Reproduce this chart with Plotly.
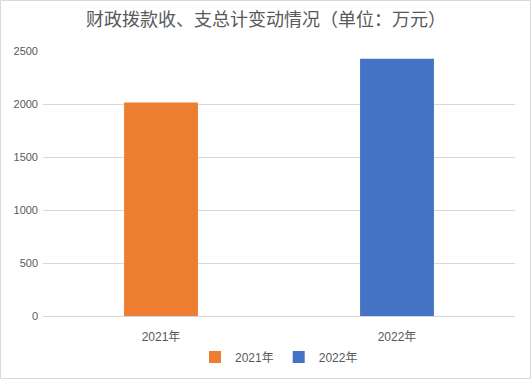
import plotly.graph_objects as go

categories = ["2021年", "2022年"]
values = [2015, 2427]
colors = ["#ED7D31", "#4472C4"]
y_ticks = [0, 500, 1000, 1500, 2000, 2500]

fig = go.Figure()
for cat, val, col in zip(categories, values, colors):
    fig.add_trace(go.Bar(x=[cat], y=[val], name=cat, marker_color=col,
                         marker_line_width=0, width=0.313))

font_fam = "Liberation Sans, Noto Sans CJK SC, sans-serif"
fig.update_layout(
    width=532, height=380,
    margin=dict(l=43, r=17, t=51, b=64, autoexpand=False),
    paper_bgcolor="white", plot_bgcolor="white",
    barmode="overlay",
    title=dict(text="财政拨款收、支总计变动情况（单位：万元）", x=0.5, xanchor="center",
               y=1 - 20 / 380, yanchor="middle", yref="container",
               font=dict(family="Noto Sans CJK SC, sans-serif", size=18, color="#595959")),
    xaxis=dict(categoryorder="array", categoryarray=categories, showgrid=False,
               showline=True, linecolor="#D9D9D9", linewidth=1, ticks="",
               ticklabelstandoff=10,
               tickfont=dict(family=font_fam, size=12, color="#595959")),
    yaxis=dict(range=[0, 2500], tickvals=y_ticks, showgrid=True, gridcolor="#D9D9D9",
               gridwidth=1, zeroline=False, showline=False, ticks="",
               ticklabelstandoff=4,
               tickfont=dict(family=font_fam, size=11, color="#595959")),
    legend=dict(orientation="h", x=0.5, xanchor="center",
                y=-41 / 265, yanchor="middle",
                font=dict(family=font_fam, size=12, color="#595959"),
                itemwidth=30, traceorder="normal"),
    showlegend=True,
)
fig.add_shape(type="rect", xref="paper", yref="paper",
              x0=-42.5 / 472, x1=1 + 15.5 / 472, y0=-62.5 / 265, y1=1 + 50.5 / 265,
              line=dict(color="#D9D9D9", width=1), fillcolor="rgba(0,0,0,0)", layer="below")

fig.write_html("out.html", config={"displayModeBar": False},
               post_script="document.body.style.margin='0';")
